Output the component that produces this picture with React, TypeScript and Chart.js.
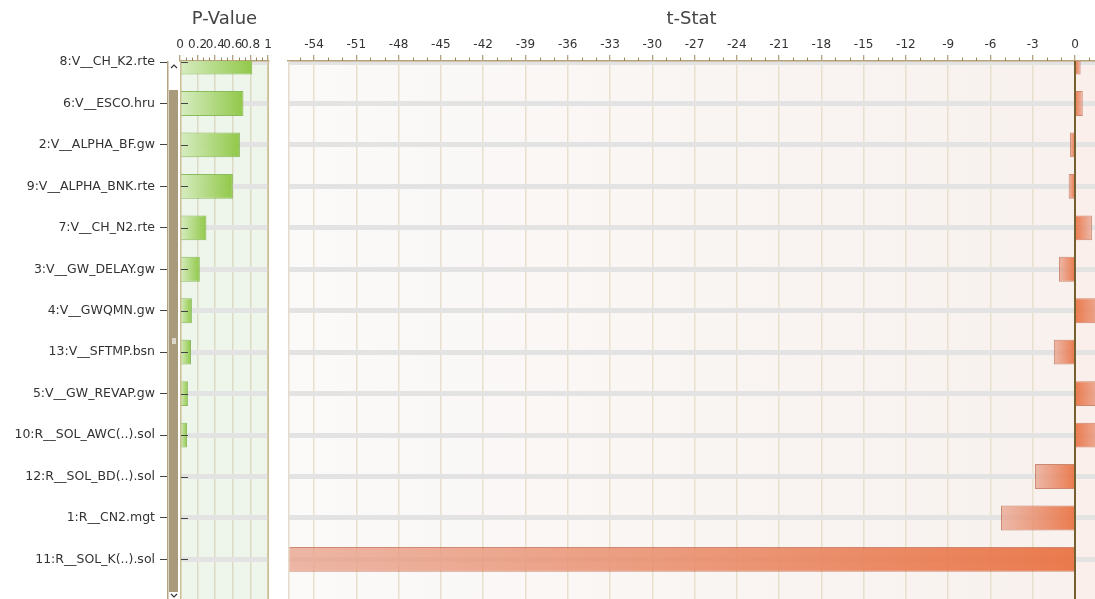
import React, { useEffect, useRef } from "react";
import { Chart, registerables } from "chart.js";

Chart.register(...registerables);

// ---- data ----
const categories = [
  "8:V__CH_K2.rte",
  "6:V__ESCO.hru",
  "2:V__ALPHA_BF.gw",
  "9:V__ALPHA_BNK.rte",
  "7:V__CH_N2.rte",
  "3:V__GW_DELAY.gw",
  "4:V__GWQMN.gw",
  "13:V__SFTMP.bsn",
  "5:V__GW_REVAP.gw",
  "10:R__SOL_AWC(..).sol",
  "12:R__SOL_BD(..).sol",
  "1:R__CN2.mgt",
  "11:R__SOL_K(..).sol",
];
const pValues = [0.82, 0.72, 0.68, 0.6, 0.3, 0.225, 0.135, 0.125, 0.09, 0.08, 0, 0, 0];
const tStats = [0.4, 0.55, -0.35, -0.45, 1.2, -1.14, 2.3, -1.5, 2.0, 2.1, -2.84, -5.25, -60];
const pValueTicks = [0, 0.2, 0.4, 0.6, 0.8, 1];
const tStatTicks = [-54, -51, -48, -45, -42, -39, -36, -33, -30, -27, -24, -21, -18, -15, -12, -9, -6, -3, 0];

const FONT = "'DejaVu Sans', Verdana, Tahoma, sans-serif";
const W = 1095;
const H = 599;
const LEFT_W = 275;
const AXIS_TOP = 61;
const TITLE_SIZE = 18;
const TITLE_PAD = { top: 9, bottom: 4 };

const toPoints = (vals: number[]) => vals.map((v, i) => ({ x: v, y: i }));

function yScale(showLabels: boolean) {
  return {
    type: "linear",
    reverse: true,
    offset: false,
    min: -0.025,
    max: 12.955,
    afterBuildTicks: (s: any) => {
      s.ticks = categories.map((_, i) => ({ value: i }));
    },
    afterFit: (s: any) => {
      s.width = showLabels ? 180 : 0;
      s.paddingTop = 0;
      s.paddingBottom = 0;
    },
    ticks: {
      display: showLabels,
      autoSkip: false,
      padding: 5,
      color: "#333",
      font: { family: FONT, size: 12.5 },
      callback: (v: any) => categories[v] ?? "",
    },
    grid: {
      offset: false,
      color: "#e3e3e3",
      lineWidth: 5,
      drawTicks: showLabels,
      tickLength: 20,
      tickColor: "#444",
      tickWidth: 1,
    },
    border: { display: false },
  };
}

function xScale(ticksArr: number[], min: number, max: number, gridColor: string) {
  return {
    type: "linear",
    position: "top",
    min,
    max,
    afterBuildTicks: (s: any) => {
      s.ticks = ticksArr.map((v) => ({ value: v }));
    },
    afterFit: (s: any) => {
      s.height = AXIS_TOP - (TITLE_SIZE * 1.2 + TITLE_PAD.top + TITLE_PAD.bottom);
    },
    ticks: {
      autoSkip: false,
      maxRotation: 0,
      minRotation: 0,
      padding: 3,
      color: "#333",
      font: { family: FONT, size: 12 },
      callback: (v: any) => String(v),
    },
    grid: { color: gridColor, lineWidth: 1.5, tickLength: 6, tickColor: "#9a8558", tickWidth: 1 },
    border: { display: true, color: "#b8a47a", width: 1.5 },
  };
}

const minorTicks = {
  id: "minorTicks",
  afterDraw(chart: any) {
    const xs = chart.scales.x;
    const a = chart.chartArea;
    const ctx = chart.ctx;
    const t = xs.ticks.map((k: any) => k.value);
    if (t.length < 2) return;
    const step = (t[1] - t[0]) / 3;
    ctx.save();
    ctx.strokeStyle = "#9a8558";
    ctx.lineWidth = 1;
    for (let k = -3; k <= (t.length - 1) * 3 + 3; k++) {
      if (k % 3 === 0) continue;
      const px = xs.getPixelForValue(t[0] + k * step);
      if (px < a.left || px > a.right) continue;
      const x = Math.round(px) + 0.5;
      ctx.beginPath();
      ctx.moveTo(x, a.top - 3.5);
      ctx.lineTo(x, a.top);
      ctx.stroke();
    }
    ctx.restore();
  },
};

const leftDecor = {
  id: "leftDecor",
  beforeDraw(chart: any) {
    const { ctx, chartArea: a } = chart;
    ctx.save();
    ctx.fillStyle = "#eef6eb";
    ctx.fillRect(a.left, a.top, a.right - a.left, a.bottom - a.top);
    ctx.restore();
  },
  afterDatasetsDraw(chart: any) {
    const { ctx, chartArea: a } = chart;
    const ys = chart.scales.y;
    ctx.save();
    ctx.strokeStyle = "#cbbd94";
    ctx.lineWidth = 1.5;
    ctx.beginPath();
    ctx.moveTo(a.left + 0.75, a.top);
    ctx.lineTo(a.left + 0.75, a.bottom);
    ctx.moveTo(a.right - 0.75, a.top);
    ctx.lineTo(a.right - 0.75, a.bottom);
    ctx.stroke();
    ctx.strokeStyle = "#444";
    ctx.lineWidth = 1;
    categories.forEach((_, i) => {
      const y = Math.round(ys.getPixelForValue(i)) + 0.5;
      if (y < a.top || y > a.bottom) return;
      ctx.beginPath();
      ctx.moveTo(a.left + 1, y);
      ctx.lineTo(a.left + 8, y);
      ctx.stroke();
    });
    ctx.restore();
  },
  afterDraw(chart: any) {
    const { ctx, chartArea: a } = chart;
    const x0 = a.left - 13;
    ctx.save();
    ctx.fillStyle = "#ffffff";
    ctx.fillRect(x0, a.top + 1, 13, a.bottom - a.top);
    ctx.strokeStyle = "#b3a481";
    ctx.lineWidth = 1.5;
    ctx.beginPath();
    ctx.moveTo(x0 + 0.75, a.top);
    ctx.lineTo(x0 + 0.75, a.bottom);
    ctx.stroke();
    ctx.fillStyle = "#a99a7b";
    ctx.fillRect(x0 + 2, a.top + 29, 9, a.bottom - a.top - 36);
    ctx.fillStyle = "#ddd7c9";
    ctx.fillRect(x0 + 5, 338, 4, 6);
    ctx.strokeStyle = "#333";
    ctx.lineWidth = 1.2;
    ctx.beginPath();
    ctx.moveTo(x0 + 4, a.top + 7);
    ctx.lineTo(x0 + 7, a.top + 4);
    ctx.lineTo(x0 + 10, a.top + 7);
    ctx.stroke();
    ctx.beginPath();
    ctx.moveTo(x0 + 4, a.bottom - 5);
    ctx.lineTo(x0 + 7, a.bottom - 2);
    ctx.lineTo(x0 + 10, a.bottom - 5);
    ctx.stroke();
    ctx.restore();
  },
};

const rightDecor = {
  id: "rightDecor",
  beforeDraw(chart: any) {
    const { ctx, chartArea: a } = chart;
    const x0 = chart.scales.x.getPixelForValue(0);
    ctx.save();
    const g = ctx.createLinearGradient(a.left, 0, x0, 0);
    g.addColorStop(0, "#fbfaf9");
    g.addColorStop(1, "#f8f1ee");
    ctx.fillStyle = g;
    ctx.fillRect(a.left, a.top, x0 - a.left, a.bottom - a.top);
    ctx.fillStyle = "#fbefeb";
    ctx.fillRect(x0, a.top, a.right - x0, a.bottom - a.top);
    ctx.restore();
  },
  afterDatasetsDraw(chart: any) {
    const { ctx, chartArea: a } = chart;
    const x0 = chart.scales.x.getPixelForValue(0);
    ctx.save();
    ctx.strokeStyle = "#e6dccb";
    ctx.lineWidth = 1.5;
    ctx.beginPath();
    ctx.moveTo(a.left + 0.75, a.top);
    ctx.lineTo(a.left + 0.75, a.bottom);
    ctx.stroke();
    ctx.strokeStyle = "#74602f";
    ctx.lineWidth = 2;
    ctx.beginPath();
    ctx.moveTo(x0, a.top);
    ctx.lineTo(x0, a.bottom);
    ctx.stroke();
    ctx.restore();
  },
};

function barGradient(near: string, far: string, solid: string) {
  return (c: any) => {
    const chart = c.chart;
    if (!chart.chartArea || c.type !== "data" || !c.parsed) return solid;
    const xs = chart.scales.x;
    const p0 = xs.getPixelForValue(0);
    const p1 = xs.getPixelForValue(c.parsed.x);
    if (Math.abs(p1 - p0) < 0.5) return solid;
    const g = chart.ctx.createLinearGradient(p0, 0, p1, 0);
    g.addColorStop(0, near);
    g.addColorStop(1, far);
    return g;
  };
}

function titleOpts(text: string) {
  return {
    display: true,
    text,
    fullSize: false,
    color: "#444",
    font: { family: FONT, size: TITLE_SIZE, weight: "normal" },
    padding: TITLE_PAD,
  };
}

export default function App() {
  const leftRef = useRef<HTMLCanvasElement>(null);
  const rightRef = useRef<HTMLCanvasElement>(null);

  useEffect(() => {
    Chart.defaults.font.family = FONT;
    const left = new Chart(leftRef.current as HTMLCanvasElement, {
      type: "bar",
      data: {
        datasets: [
          {
            data: toPoints(pValues) as any,
            backgroundColor: barGradient("rgba(214,236,192,0.95)", "rgba(140,198,64,0.95)", "#a8d46f") as any,
            borderColor: "rgba(128,180,80,0.9)",
            borderWidth: 1,
            barPercentage: 0.6,
            categoryPercentage: 1,
            clip: 0 as any,
          },
        ],
      },
      options: {
        indexAxis: "y",
        animation: false,
        responsive: false,
        devicePixelRatio: 1,
        events: [],
        layout: { padding: { left: 0, right: 6, top: 0, bottom: 0 } },
        plugins: {
          legend: { display: false },
          tooltip: { enabled: false },
          title: titleOpts("P-Value") as any,
        },
        scales: {
          x: xScale(pValueTicks, 0, 1.01, "#dcd9c4") as any,
          y: yScale(true) as any,
        },
      },
      plugins: [leftDecor, minorTicks],
    });

    const right = new Chart(rightRef.current as HTMLCanvasElement, {
      type: "bar",
      data: {
        datasets: [
          {
            data: toPoints(tStats) as any,
            backgroundColor: barGradient("rgba(233,112,64,0.92)", "rgba(233,168,148,0.78)", "#e9805a") as any,
            borderColor: "rgba(190,100,70,0.75)",
            borderWidth: 1,
            barPercentage: 0.6,
            categoryPercentage: 1,
            clip: 0 as any,
          },
        ],
      },
      options: {
        indexAxis: "y",
        animation: false,
        responsive: false,
        devicePixelRatio: 1,
        events: [],
        layout: { padding: { left: 13, right: 0, top: 0, bottom: 0 } },
        plugins: {
          legend: { display: false },
          tooltip: { enabled: false },
          title: titleOpts("t-Stat") as any,
        },
        scales: {
          x: xScale(tStatTicks, -55.85, 1.42, "#e8dfcc") as any,
          y: yScale(false) as any,
        },
      },
      plugins: [rightDecor, minorTicks],
    });

    return () => {
      left.destroy();
      right.destroy();
    };
  }, []);

  return (
    <div
      style={{
        position: "fixed",
        left: 0,
        top: 0,
        width: W,
        height: H,
        background: "#ffffff",
        overflow: "hidden",
      }}
    >
      <canvas
        ref={leftRef}
        width={LEFT_W}
        height={H}
        style={{ position: "absolute", left: 0, top: 0, width: LEFT_W, height: H }}
      />
      <canvas
        ref={rightRef}
        width={W - LEFT_W}
        height={H}
        style={{ position: "absolute", left: LEFT_W, top: 0, width: W - LEFT_W, height: H }}
      />
    </div>
  );
}
